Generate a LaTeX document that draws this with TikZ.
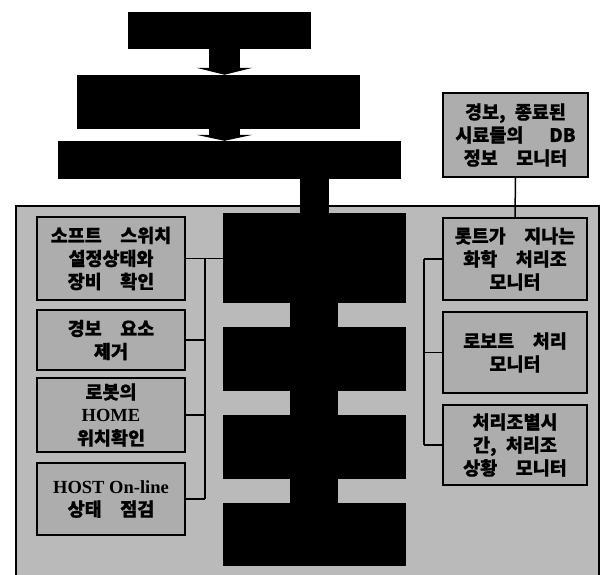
\documentclass[tikz,border=0pt]{standalone}
\usepackage{fontspec}
\newfontfamily\kr{Noto Sans CJK KR}[BoldFeatures={FakeBold=0.8}]
\newfontfamily\lat{Liberation Serif}
\usetikzlibrary{calc}
\newcommand{\wsp}{\hspace{1em}}
\begin{document}
\begin{tikzpicture}[x=1pt,y=-1pt,
  blk/.style={fill=black,draw=black,inner sep=0pt},
  gbox/.style={draw=black,line width=1.6pt,fill=black!32,inner sep=0pt,align=center,
    font=\kr\bfseries\fontsize{18.5}{23}\selectfont},
  frame/.style={draw=black,line width=2.2pt,fill=black!27,inner sep=0pt},
  wire/.style={draw=black,line width=1.5pt},
  bar/.style={draw=black},
]
\useasboundingbox (0,0) rectangle (607,574);
\fill[white] (0,0) rectangle (607,574);

% top black boxes
\node[blk,minimum width=182pt,minimum height=36pt] (B1) at (219,30) {};
\node[blk,minimum width=282pt,minimum height=53pt] (B2) at (218,101.5) {};
\node[blk,minimum width=342pt,minimum height=37pt] (B3) at (229,159.5) {};

% info box
\node[gbox,minimum width=145pt,minimum height=84pt] (I) at (515.5,135)
  {경보,\hspace{0.5em}종료된\\시료들의\hspace{1.4em}DB\\정보\wsp 모니터};

% big frame
\node[frame,minimum width=583pt,minimum height=400pt,anchor=north west] (F) at (15,205) {};

% central black boxes
\node[blk,minimum width=182pt,minimum height=89pt] (C1) at (314,257.5) {};
\node[blk,minimum width=182pt,minimum height=63pt] (C2) at (314,358.5) {};
\node[blk,minimum width=182pt,minimum height=63pt] (C3) at (314,446.5) {};
\node[blk,minimum width=182pt,minimum height=62pt] (C4) at (314,534) {};

% left boxes
\node[gbox,minimum width=148pt,minimum height=83pt] (L1) at (111,258.5)
  {소프트\wsp 스위치\\설정상태와\\장비\wsp 확인};
\node[gbox,minimum width=148pt,minimum height=60pt] (L2) at (111,340)
  {경보\wsp 요소\\제거};
\node[gbox,minimum width=148pt,minimum height=74pt] (L3) at (111,415)
  {로봇의\\{\lat\bfseries HOME}\\위치확인};
\node[gbox,minimum width=148pt,minimum height=72pt] (L4) at (111,499)
  {{\lat\bfseries HOST On-line}\\상태\wsp 점검};

% right boxes
\node[gbox,minimum width=144pt,minimum height=82pt] (R1) at (515,259)
  {롯트가\wsp 지나는\\화학\wsp 처리조\\모니터};
\node[gbox,minimum width=144pt,minimum height=81pt] (R2) at (515,352.5)
  {로보트\wsp 처리\\모니터};
\node[gbox,minimum width=144pt,minimum height=80pt] (R3) at (515,445)
  {처리조별시\\간,\hspace{0.5em}처리조\\상황\wsp 모니터};

% arrows between top boxes
\coordinate (ax) at (224.5,0);
\fill ($(B1.south -| ax)+(-15.5,0)$) rectangle ($(B2.north -| ax)+(15.5,-6)$);
\fill ($(B2.north -| ax)+(-28,-7)$) -- ($(B2.north -| ax)+(28,-7)$) -- (B2.north -| ax) -- cycle;
\fill ($(B2.south -| ax)+(-15.5,0)$) rectangle ($(B3.north -| ax)+(15.5,-5)$);
\fill ($(B3.north -| ax)+(-28,-6)$) -- ($(B3.north -| ax)+(28,-6)$) -- (B3.north -| ax) -- cycle;

% bar from B3 into central column
\draw[bar,line width=29pt] (B3.south -| C1.north) -- (C1.north);
% bars within central column
\draw[bar,line width=48pt] (C1.south) -- (C2.north);
\draw[bar,line width=48pt] (C2.south) -- (C3.north);
\draw[bar,line width=48pt] (C3.south) -- (C4.north);

% left bus
\coordinate (lb) at (205,0);
\draw[wire] (L1.east) -- (C1.west |- L1.east);
\draw[wire] (L1.east -| lb) -- (L4.east -| lb);
\draw[wire] (L2.east) -- (L2.east -| lb);
\draw[wire] (L3.east) -- (L3.east -| lb);
\draw[wire] (L4.east) -- (L4.east -| lb);

% right bus
\coordinate (rb) at (424,0);
\draw[wire] (R1.west -| rb) -- (R3.west -| rb);
\draw[wire] (R1.west) -- (R1.west -| rb);
\draw[wire] (R2.west) -- (R2.west -| rb);
\draw[wire] (R3.west) -- (R3.west -| rb);

% info box to first right box
\draw[wire] (I.south) -- (R1.north);
\end{tikzpicture}
\end{document}
